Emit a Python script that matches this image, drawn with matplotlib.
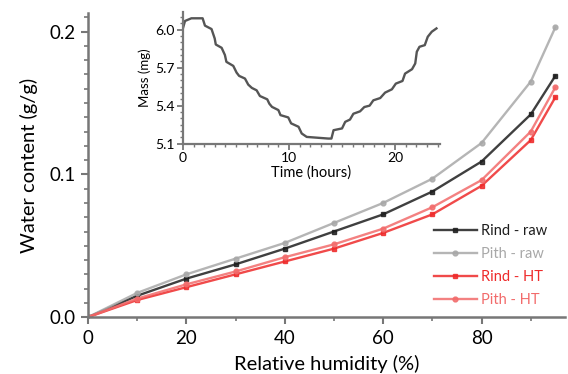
import matplotlib
matplotlib.use('Agg')
import matplotlib.pyplot as plt
from matplotlib.ticker import MultipleLocator

plt.rcParams['font.family'] = ['Lato', 'DejaVu Sans']

# sorption isotherms
rh = [0, 10, 20, 30, 40, 50, 60, 70, 80, 90, 95]
rind_raw = [0, 0.015, 0.027, 0.037, 0.048, 0.060, 0.072, 0.088, 0.109, 0.142, 0.169]
pith_raw = [0, 0.017, 0.030, 0.041, 0.052, 0.066, 0.080, 0.097, 0.122, 0.165, 0.203]
rind_ht = [0, 0.012, 0.021, 0.030, 0.039, 0.048, 0.059, 0.072, 0.092, 0.124, 0.154]
pith_ht = [0, 0.013, 0.023, 0.032, 0.042, 0.051, 0.062, 0.077, 0.096, 0.130, 0.161]

# inset: mass vs time (stepwise RH program)
time_h = [0, 0.2, 0.8, 1.86, 2.08, 2.7, 3.0, 3.1, 3.65, 3.96, 4.1, 4.75, 5.06,
          5.3, 5.85, 6.16, 6.5, 6.95, 7.26, 7.95, 8.15, 8.4, 9.0, 9.2, 9.93,
          10.2, 10.9, 11.2, 11.67, 13.7, 14.0, 14.2, 15.0, 15.3, 15.75, 16.07,
          16.7, 17.1, 17.6, 17.95, 18.6, 19.06, 19.7, 20.07, 20.7, 20.94, 21.6,
          21.9, 22.05, 22.3, 22.8, 23.08, 23.46, 23.9]
mass_mg = [6.01, 6.069, 6.09, 6.09, 6.032, 6.005, 5.93, 5.883, 5.857, 5.80,
           5.746, 5.714, 5.661, 5.635, 5.614, 5.566, 5.54, 5.521, 5.476, 5.45,
           5.415, 5.39, 5.365, 5.325, 5.307, 5.26, 5.233, 5.18, 5.153, 5.14,
           5.14, 5.206, 5.22, 5.272, 5.29, 5.336, 5.355, 5.389, 5.40, 5.442,
           5.46, 5.503, 5.529, 5.574, 5.595, 5.653, 5.688, 5.733, 5.826, 5.865,
           5.878, 5.944, 5.984, 6.01]

series = [
    ('Rind - raw', rind_raw, '#1e1e1e', 's'),
    ('Pith - raw', pith_raw, '#a8a8a8', 'o'),
    ('Rind - HT', rind_ht, '#ee2a2a', 's'),
    ('Pith - HT', pith_ht, '#f26b6b', 'o'),
]

fig = plt.figure(figsize=(5.68, 3.74), dpi=100)
ax = fig.add_axes([0.155, 0.152, 0.84, 0.813])

for label, vals, color, mk in series:
    ax.plot(rh, vals, color=color, lw=1.7, alpha=0.85, marker=mk, ms=3.5,
            label=label)

ax.set_xlim(0, 97)
ax.set_ylim(0, 0.213)
ax.set_xticks([0, 20, 40, 60, 80])
ax.set_yticks([0.0, 0.1, 0.2])
ax.set_yticklabels(['0.0', '0.1', '0.2'])
ax.xaxis.set_minor_locator(MultipleLocator(10))
ax.yaxis.set_minor_locator(MultipleLocator(0.01))
for s in ['top', 'right']:
    ax.spines[s].set_visible(False)
for s in ['left', 'bottom']:
    ax.spines[s].set_color('#777777')
    ax.spines[s].set_linewidth(1.8)
ax.tick_params(which='major', length=5, width=1.5, color='#777777',
               labelsize=13.5, pad=4)
ax.tick_params(which='minor', length=3, width=1.2, color='#777777')
ax.set_xlabel('Relative humidity (%)', fontsize=14.5, labelpad=6)
ax.set_ylabel('Water content (g/g)', fontsize=14.5, labelpad=8)

leg = ax.legend(loc='lower right', bbox_to_anchor=(0.99, -0.01), frameon=False,
                fontsize=10.5, handlelength=2.9, handletextpad=0.3,
                labelspacing=0.62)
for txt, (_, _, color, _) in zip(leg.get_texts(), series):
    txt.set_color(color)

# inset
ins = fig.add_axes([0.322, 0.616, 0.452, 0.352])
ins.plot(time_h, mass_mg, color='#555555', lw=1.7)
ins.set_xlim(0, 24.2)
ins.set_ylim(5.1, 6.14)
ins.set_xticks([0, 10, 20])
ins.set_yticks([5.1, 5.4, 5.7, 6.0])
ins.xaxis.set_minor_locator(MultipleLocator(1))
ins.yaxis.set_minor_locator(MultipleLocator(0.05))
for s in ['top', 'right']:
    ins.spines[s].set_visible(False)
for s in ['left', 'bottom']:
    ins.spines[s].set_color('#777777')
    ins.spines[s].set_linewidth(1.6)
ins.tick_params(which='major', length=4, width=1.3, color='#777777',
                labelsize=10, pad=2)
ins.tick_params(which='minor', length=2, width=1.0, color='#777777')
ins.set_xlabel('Time (hours)', fontsize=10.5, labelpad=1)
ins.set_ylabel('Mass (mg)', fontsize=9.5, labelpad=3)
ins.patch.set_alpha(0)

fig.savefig('out.png', dpi=100)
